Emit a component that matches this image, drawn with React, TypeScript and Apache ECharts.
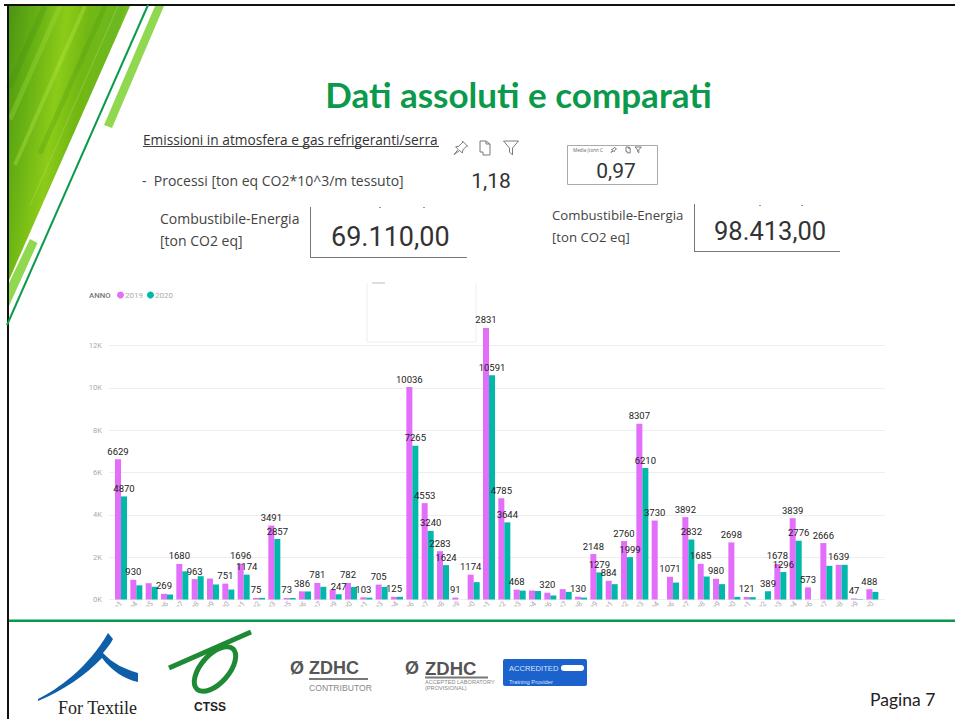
import React, { useEffect, useRef } from "react";
import * as echarts from "echarts";

const seriesNames = ["2019", "2020"];
const categories = ["e1","e4","e5","e6","e7","e8","e9","e0","e1","e2","e3","e5","e6","e7","e9","e0","e1","e3","e4","e6","e7","e8","e9","e0","e1","e2","e3","e4","e6","e7","e8","e9","e1","e2","e3","e4","e6","e7","e8","e9","e0","e1","e2","e3","e4","e6","e7","e8","e9","e0"];
const values2019 = [6629,930,770,269,1680,963,990,751,1696,75,3491,73,386,781,470,782,103,705,125,10036,4553,2283,91,1174,12831,4785,468,425,320,490,130,2148,884,2760,8307,3730,1071,3892,1685,980,2698,121,null,1678,3839,573,2666,1639,47,488];
const values2020 = [4870,670,600,235,1330,1100,710,470,1174,75,2857,70,380,600,247,590,85,590,125,7265,3240,1624,null,820,10591,3644,420,400,190,360,90,1279,725,1999,6210,null,800,2832,1085,725,125,110,389,1296,2776,null,1590,1639,20,360];
const labels2019 = ["6629","930","","269","1680","963","","751","1696","75","3491","73","386","781","","782","103","705","125","10036","4553","2283","91","1174","2831","4785","468","","320","","130","2148","884","2760","8307","3730","1071","3892","1685","980","2698","121","","1678","3839","573","2666","1639","47","488"];
const labels2020 = ["4870","","","","","","","","1174","","2857","","","","247","","","","","7265","3240","1624","","","10591","3644","","","","","","1279","","1999","6210","","","2832","","","","","389","1296","2776","","","","",""];
const yTicks = [0, 2000, 4000, 6000, 8000, 10000, 12000];

const PINK = "#E26EF9";
const TEAL = "#01B8AA";
const GREEN = "#0B9A4B";
const DIN = "Roboto, sans-serif";
const BODY = '"Open Sans", sans-serif';

const PIN = "M0 13 L4 8 L1.5 5.5 L4.5 5 L8.5 1 L8 0 L13 5 L12 4.8 L8.5 8.5 L8 11.5 L5.5 9 L0 13";
const COPY = "M0 0 L6 0 L6 3 L10 3 L10 14 L3 14 L3 11 L0 11 Z M6 0 L10 3";
const FUNNEL = "M0 0 L15 0 L9 7 L9 14 L6 11 L6 7 Z";
const SWOOSH = "M38 699 C58 689 88 668 108 633 L113 639 C110 645 106 649 103 653 C113 664 125 669 138 673 L138 682 C124 679 112 671 102 658 C86 675 62 691 38 701 Z";
echarts.graphic.registerShape("pinIcon", echarts.graphic.extendPath(PIN, {}));
echarts.graphic.registerShape("copyIcon", echarts.graphic.extendPath(COPY, {}));
echarts.graphic.registerShape("funnelIcon", echarts.graphic.extendPath(FUNNEL, {}));
echarts.graphic.registerShape("swooshLogo", echarts.graphic.extendPath(SWOOSH, {}));

const t = (text: string, x: number, y: number, size: number, family: string, fill: string, extra: any = {}) => ({
  type: "text",
  x,
  y,
  z: 20,
  style: {
    text,
    fill,
    font: `${extra.weight || "normal"} ${size}px ${family}`,
    align: extra.align || "left",
    verticalAlign: "middle",
  },
});
const ln = (x1: number, y1: number, x2: number, y2: number, stroke: string, lineWidth = 1) => ({
  type: "line",
  z: 20,
  shape: { x1, y1, x2, y2 },
  style: { stroke, lineWidth },
});
const icon = (type: string, x: number, y: number, s: number) => ({
  type,
  x,
  y,
  scaleX: s,
  scaleY: s,
  z: 20,
  style: { fill: "none", stroke: "#7a7a7a", lineWidth: 1 / s },
});
const streak = (x1: number, x2: number, stroke: string, opacity: number, w: number) => ({
  type: "line",
  z: 3,
  shape: { x1, y1: 6, x2, y2: 6 + (x1 - x2) / 0.441 },
  style: { stroke, opacity, lineWidth: w },
});

const graphics: any[] = [
  // slide decoration
  {
    type: "polygon",
    z: 2,
    shape: { points: [[8, 6], [130, 6], [9, 280]] },
    style: {
      fill: new echarts.graphic.LinearGradient(0, 0, 1, 0.3, [
        { offset: 0, color: "#4a9412" },
        { offset: 0.22, color: "#66b014" },
        { offset: 0.45, color: "#8ccb18" },
        { offset: 0.62, color: "#72b814" },
        { offset: 0.85, color: "#6cb820" },
        { offset: 1, color: "#8fd030" },
      ]),
    },
  },
  streak(60, 10, "#a8e040", 0.3, 5),
  streak(85, 15, "#c0ee50", 0.3, 4),
  streak(45, 9, "#3f8a10", 0.25, 6),
  streak(105, 40, "#4d9c10", 0.3, 5),
  streak(118, 30, "#b8e878", 0.35, 1),
  { type: "polygon", z: 4, shape: { points: [[155, 6], [164, 6], [112, 128], [104, 125]] }, style: { fill: "#90D850" } },
  { type: "polygon", z: 4, shape: { points: [[30, 239], [37.5, 243], [9, 306], [9, 283]] }, style: { fill: "#90D850" } },
  ln(148, 5, 7, 325, GREEN, 2),
  { type: "rect", z: 6, shape: { x: 4, y: 4, width: 951, height: 2 }, style: { fill: "#111" } },
  { type: "rect", z: 6, shape: { x: 7, y: 4, width: 2, height: 715 }, style: { fill: "#111" } },
  { type: "rect", z: 6, shape: { x: 9, y: 619.5, width: 946, height: 2.5 }, style: { fill: GREEN } },

  // heading and KPI cards
  t("Dati assoluti e comparati", 518.5, 94, 35, "Lato, sans-serif", "#0B9A4B", { weight: "bold", align: "center" }),
  t("Emissioni in atmosfera e gas refrigeranti/serra", 143, 139, 13.7, BODY, "#333"),
  ln(143, 146.5, 439, 146.5, "#444", 1),
  t("-  Processi [ton eq CO2*10^3/m tessuto]", 142, 180, 14, BODY, "#444"),
  icon("pinIcon", 454, 141, 1.05),
  icon("copyIcon", 480, 141, 1),
  icon("funnelIcon", 503.5, 141, 1),
  t("1,18", 491, 181, 21, DIN, "#333", { align: "center" }),
  { type: "rect", z: 20, shape: { x: 567.5, y: 145.5, width: 90, height: 39 }, style: { fill: "#fff", stroke: "#aaa", lineWidth: 1 } },
  t("Media (tonn C", 573, 149.5, 4.6, BODY, "#666"),
  icon("pinIcon", 611, 147, 0.42),
  icon("copyIcon", 626, 147, 0.42),
  icon("funnelIcon", 635, 147, 0.42),
  t("0,97", 616, 171, 21, DIN, "#333", { align: "center" }),
  t("Combustibile-Energia", 160, 218, 14, BODY, "#444"),
  t("[ton CO2 eq]", 160, 240, 14, BODY, "#444"),
  ln(310.5, 207, 310.5, 257.5, "#777", 1),
  ln(310, 257.5, 467, 257.5, "#777", 1),
  t("69.110,00", 331, 237, 27, DIN, "#333"),
  t("Combustibile-Energia", 552, 215, 13.2, BODY, "#444"),
  t("[ton CO2 eq]", 552, 237, 13.2, BODY, "#444"),
  ln(694.5, 204, 694.5, 251.5, "#777", 1),
  ln(694, 251.5, 840, 251.5, "#777", 1),
  t("98.413,00", 714, 231, 25.5, DIN, "#333"),
  ln(379, 207.5, 381, 207.5, "#999", 1),
  ln(423, 207.5, 425, 207.5, "#999", 1),
  ln(759, 205.5, 761, 205.5, "#999", 1),
  ln(801, 205.5, 803, 205.5, "#999", 1),

  // chart furniture
  t("ANNO", 89, 295, 7.8, "Roboto, sans-serif", "#777", { weight: "500" }),
  { type: "polyline", z: 1, shape: { points: [[367, 283], [367, 342], [476, 342], [476, 283]] }, style: { fill: "none", stroke: "#eeeeee", lineWidth: 1 } },
  ln(372, 283, 385, 283, "#bbb", 1),
  { type: "rect", z: 50, shape: { x: 100, y: 606.5, width: 800, height: 12 }, style: { fill: "#fff" } },

  // footer logos
  { type: "swooshLogo", z: 20, style: { fill: "#0F5FA8" } },
  t("For Textile", 58, 708, 18, '"Liberation Serif", serif', "#222"),
  ln(169, 668, 251, 632, "#1E8A34", 5),
  { type: "ellipse", z: 20, x: 215, y: 669, rotation: 0.85, shape: { cx: 0, cy: 0, rx: 27, ry: 14 }, style: { fill: "none", stroke: "#1E8A34", lineWidth: 5 } },
  t("CTSS", 210, 707, 12, '"Liberation Sans", sans-serif', "#222", { weight: "bold", align: "center" }),
  t("Ø", 290, 668, 18, '"Liberation Sans", sans-serif', "#555", { weight: "bold" }),
  t("ZDHC", 309, 668, 18, '"Liberation Sans", sans-serif', "#555", { weight: "bold" }),
  ln(309, 679, 368, 679, "#777", 2),
  t("CONTRIBUTOR", 309, 688, 8.6, '"Liberation Sans", sans-serif', "#888"),
  t("Ø", 405, 668, 18, '"Liberation Sans", sans-serif', "#555", { weight: "bold" }),
  t("ZDHC", 425, 668, 18.5, '"Liberation Sans", sans-serif', "#555", { weight: "bold" }),
  ln(425, 677.5, 488, 677.5, "#777", 2),
  t("ACCEPTED LABORATORY", 425, 682, 5.6, '"Liberation Sans", sans-serif', "#888"),
  t("(PROVISIONAL)", 425, 688, 5.6, '"Liberation Sans", sans-serif', "#888"),
  { type: "rect", z: 20, shape: { x: 503, y: 659, width: 84, height: 27, r: 2 }, style: { fill: "#1C62CC" } },
  t("ACCREDITED", 509, 668, 7.6, '"Liberation Sans", sans-serif', "#d5e4ff"),
  { type: "rect", z: 21, shape: { x: 561, y: 665, width: 23, height: 6, r: 3 }, style: { fill: "#fff" } },
  t("Training Provider", 509, 682, 5.8, '"Liberation Sans", sans-serif', "#d5e4ff"),
  t("Pagina 7", 870, 699, 17.5, "Lato, sans-serif", "#222"),
];

const barLabel = (texts: string[]) => ({
  show: true,
  position: "top" as const,
  distance: 3,
  color: "#222",
  fontFamily: DIN,
  fontSize: 9.5,
  formatter: (p: any) => texts[p.dataIndex] || "",
});

export default function App() {
  const ref = useRef<HTMLDivElement>(null);
  useEffect(() => {
    const chart = echarts.init(ref.current!, undefined, { renderer: "svg" });
    chart.setOption({
      animation: false,
      backgroundColor: "#fff",
      legend: {
        data: seriesNames,
        left: 117,
        top: 291,
        padding: 0,
        icon: "circle",
        itemWidth: 7,
        itemHeight: 7,
        itemGap: 4,
        textStyle: { color: "#aaa", fontSize: 8, fontFamily: DIN, padding: [0, 0, 0, -4] },
      },
      grid: [
        { left: 109, width: 776, top: 345.5, height: 254 },
        // bars' grid reaches up to 13K: the tallest bar stands above the 12K line
        { left: 113.33, width: 766.7, top: 324.33, height: 275.17 },
      ],
      xAxis: [
        { type: "category", gridIndex: 0, data: [], show: false },
        {
          type: "category",
          gridIndex: 1,
          data: categories,
          axisLine: { show: false },
          axisTick: { show: false },
          axisLabel: { interval: 0, rotate: 45, fontSize: 7.5, color: "#aaa", margin: 3, fontFamily: DIN },
        },
      ],
      yAxis: [
        {
          type: "value",
          gridIndex: 0,
          min: 0,
          max: 12000,
          interval: yTicks[1],
          axisLine: { show: false },
          axisTick: { show: false },
          splitLine: { lineStyle: { color: "#eeeeee", width: 1 } },
          axisLabel: {
            color: "#aaa",
            fontSize: 7.5,
            margin: 7,
            fontFamily: DIN,
            formatter: (v: number) => `${v / 1000}K`,
          },
        },
        { type: "value", gridIndex: 1, min: 0, max: 13000, interval: 1000, show: false, splitLine: { show: false } },
      ],
      series: [
        { name: seriesNames[0], type: "bar", xAxisIndex: 1, yAxisIndex: 1, data: values2019, barWidth: 6, barGap: 0, itemStyle: { color: PINK }, label: barLabel(labels2019), z: 5 },
        { name: seriesNames[1], type: "bar", xAxisIndex: 1, yAxisIndex: 1, data: values2020, barWidth: 6, barGap: 0, itemStyle: { color: TEAL }, label: barLabel(labels2020), z: 5 },
      ],
      graphic: { elements: graphics },
    });
    return () => chart.dispose();
  }, []);
  return <div ref={ref} style={{ position: "absolute", left: 0, top: 0, width: 955, height: 719 }} />;
}
